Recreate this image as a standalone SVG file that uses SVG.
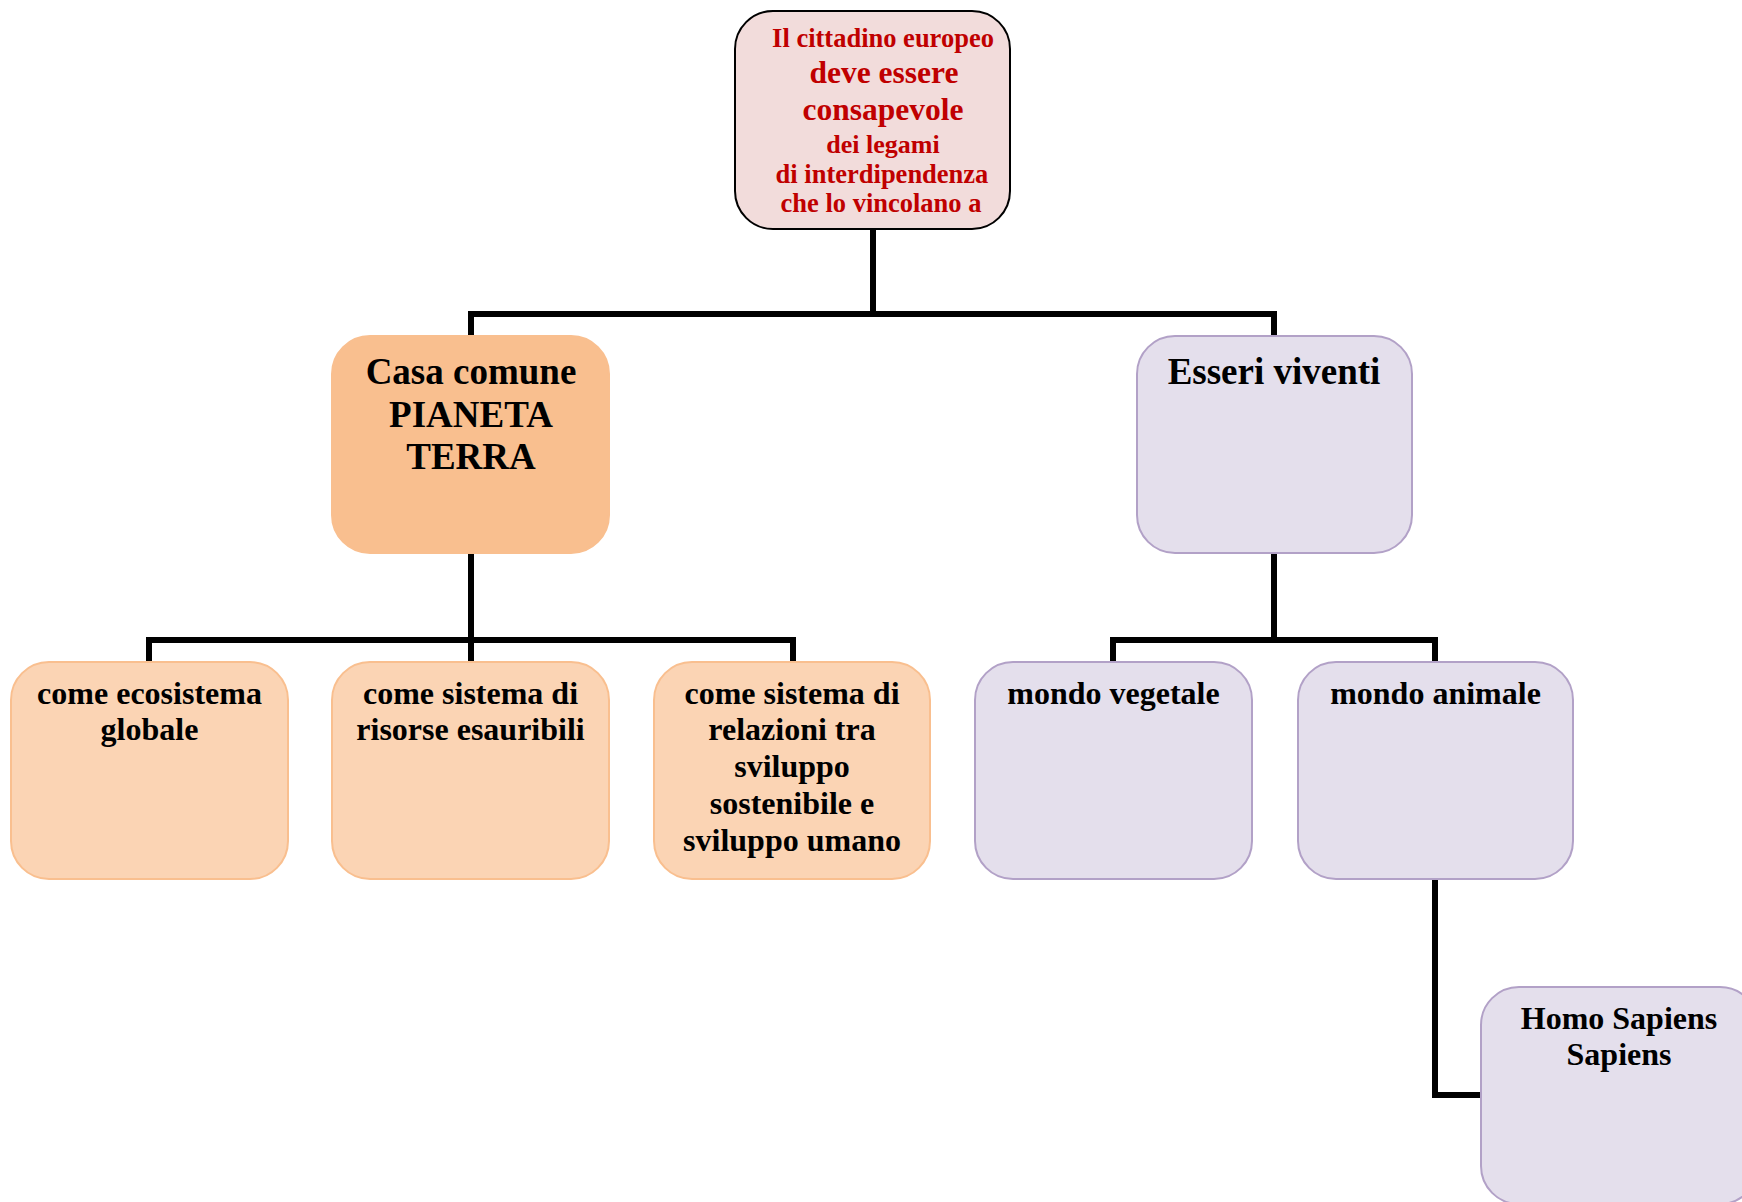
<svg xmlns="http://www.w3.org/2000/svg" width="1742" height="1202" viewBox="0 0 1742 1202">
<style>
.t{font-family:"Liberation Serif","Times New Roman",serif;font-weight:bold;text-anchor:middle;fill:#000}
.r{fill:#c00000}
.root{fill:#f2dcdb;stroke:#000;stroke-width:2}
.main{fill:#f9bf8f;stroke:#f9bf8f;stroke-width:2}
.sub{fill:#fbd4b4;stroke:#f9bf8f;stroke-width:2}
.lav{fill:#e4dfec;stroke:#b2a1c7;stroke-width:2}
.c{fill:none;stroke:#000;stroke-width:6;stroke-linejoin:miter}
</style>
<rect width="1742" height="1202" fill="#fff"/>
<g id="connectors">
<path class="c" d="M873 229V314M471 336V314H1274V336"/>
<path class="c" d="M471 553V640M149 662V640H793V662M471 640V662"/>
<path class="c" d="M1274 553V640M1113 662V640H1435V662"/>
<path class="c" d="M1435 879V1095H1481"/>
</g>
<g id="root">
<rect class="root" x="735" y="11" width="275" height="218" rx="38"/>
<text class="t r" x="883" y="47" font-size="26.5">Il cittadino europeo</text>
<text class="t r" x="884" y="83" font-size="31.5">deve essere</text>
<text class="t r" x="883" y="120" font-size="31.5">consapevole</text>
<text class="t r" x="883" y="153" font-size="26">dei legami</text>
<text class="t r" x="882" y="183" font-size="26.5">di interdipendenza</text>
<text class="t r" x="881" y="212" font-size="26.5">che lo vincolano a</text>
</g>
<g id="casa">
<rect class="main" x="332" y="336" width="277" height="217" rx="38"/>
<text class="t" x="471" y="384" font-size="37">Casa comune</text>
<text class="t" x="471" y="427" font-size="37">PIANETA</text>
<text class="t" x="471" y="469" font-size="37">TERRA</text>
</g>
<g id="esseri">
<rect class="lav" x="1137" y="336" width="275" height="217" rx="38"/>
<text class="t" x="1274" y="384" font-size="37">Esseri viventi</text>
</g>
<g id="ecosistema">
<rect class="sub" x="11" y="662" width="277" height="217" rx="38"/>
<text class="t" x="149.5" y="704" font-size="32">come ecosistema</text>
<text class="t" x="149.5" y="740" font-size="32">globale</text>
</g>
<g id="risorse">
<rect class="sub" x="332" y="662" width="277" height="217" rx="38"/>
<text class="t" x="470.5" y="704" font-size="32">come sistema di</text>
<text class="t" x="470.5" y="740" font-size="32">risorse esauribili</text>
</g>
<g id="relazioni">
<rect class="sub" x="654" y="662" width="276" height="217" rx="38"/>
<text class="t" x="792" y="704" font-size="32">come sistema di</text>
<text class="t" x="792" y="740" font-size="32">relazioni tra</text>
<text class="t" x="792" y="777" font-size="32">sviluppo</text>
<text class="t" x="792" y="814" font-size="32">sostenibile e</text>
<text class="t" x="792" y="851" font-size="32">sviluppo umano</text>
</g>
<g id="vegetale">
<rect class="lav" x="975" y="662" width="277" height="217" rx="38"/>
<text class="t" x="1113.5" y="704" font-size="32">mondo vegetale</text>
</g>
<g id="animale">
<rect class="lav" x="1298" y="662" width="275" height="217" rx="38"/>
<text class="t" x="1435.5" y="704" font-size="32">mondo animale</text>
</g>
<g id="homo">
<rect class="lav" x="1481" y="987" width="277" height="217" rx="38"/>
<text class="t" x="1619" y="1029" font-size="32">Homo Sapiens</text>
<text class="t" x="1619" y="1065" font-size="32">Sapiens</text>
</g>
</svg>
